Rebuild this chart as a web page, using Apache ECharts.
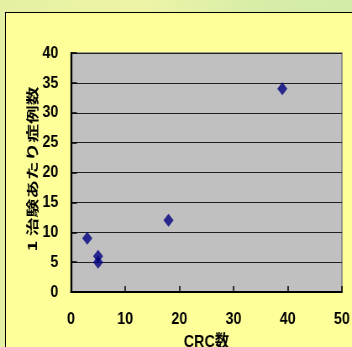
<!DOCTYPE html>
<html>
<head>
<meta charset="utf-8">
<script src="https://cdn.jsdelivr.net/npm/echarts@6/dist/echarts.min.js"></script>
<style>
  html, body { margin: 0; padding: 0; }
  body {
    width: 352px; height: 347px; overflow: hidden; position: relative;
    background: linear-gradient(90deg, #e6f0a2 0%, #eef4a6 40%, #d6eda8 75%, #d2eca8 100%);
  }
  #frame {
    position: absolute; left: 5px; top: 12px; width: 360px; height: 360px;
    background: #ffff99; border: 1.5px solid #000; box-sizing: border-box;
  }
  /* the chart is drawn wider and compressed horizontally for a condensed look */
  #chart {
    position: absolute; left: 0; top: 0; width: 419px; height: 347px;
    transform: scaleX(0.84); transform-origin: 0 0;
  }
</style>
</head>
<body>
<div id="frame"></div>
<div id="chart"></div>
<script>
// CRC count vs. cases per trial
const crcCounts = [3, 5, 5, 18, 39];
const casesPerTrial = [9, 6, 5, 12, 34];
const xTicks = { min: 0, max: 50, interval: 10 };
const yTicks = { min: 0, max: 40, interval: 5 };
const xTitle = 'CRC数';
const yTitle = '1 治験あたり症例数';

const points = crcCounts.map((x, i) => [x, casesPerTrial[i]]);
const labelFont = {
  fontFamily: '"Liberation Sans", "Noto Sans CJK JP", sans-serif',
  fontWeight: 'bold', fontSize: 17, color: '#000'
};

const chart = echarts.init(document.getElementById('chart'), null, { renderer: 'canvas' });
chart.setOption({
  backgroundColor: 'transparent',
  animation: false,
  grid: {
    left: 84.5, right: 12, top: 53, bottom: 55,
    outerBoundsMode: 'none', containLabel: false,
    show: true, backgroundColor: '#c0c0c0', borderColor: '#808080', borderWidth: 1.5
  },
  xAxis: {
    type: 'value', min: xTicks.min, max: xTicks.max, interval: xTicks.interval,
    name: xTitle, nameLocation: 'middle', nameGap: 42,
    nameTextStyle: Object.assign({}, labelFont, { fontSize: 17 }),
    axisLine: { show: true, onZero: false, lineStyle: { color: '#000', width: 2 } },
    axisTick: { show: true, inside: true, length: 6, lineStyle: { color: '#000', width: 1.5 } },
    axisLabel: Object.assign({ margin: 19 }, labelFont),
    splitLine: { show: false }
  },
  yAxis: {
    type: 'value', min: yTicks.min, max: yTicks.max, interval: yTicks.interval,
    axisLine: { show: true, onZero: false, lineStyle: { color: '#000', width: 2.2 } },
    axisTick: { show: true, inside: true, length: 7, lineStyle: { color: '#000', width: 1.5 } },
    axisLabel: Object.assign({ margin: 15 }, labelFont),
    splitLine: { show: true, lineStyle: { color: '#202020', width: 1.2 } }
  },
  graphic: [{
    type: 'text',
    x: 38.7, y: 169,
    rotation: Math.PI / 2,
    scaleX: 1.1, scaleY: 0.86,
    style: {
      text: yTitle,
      fill: '#000',
      font: 'bold 17px "Noto Sans CJK JP", "Liberation Sans", sans-serif',
      align: 'center', verticalAlign: 'middle'
    }
  }],
  series: [{
    type: 'scatter',
    data: points,
    symbol: 'diamond',
    symbolSize: [12, 13],
    itemStyle: { color: '#000080' }
  }]
});
</script>
</body>
</html>
